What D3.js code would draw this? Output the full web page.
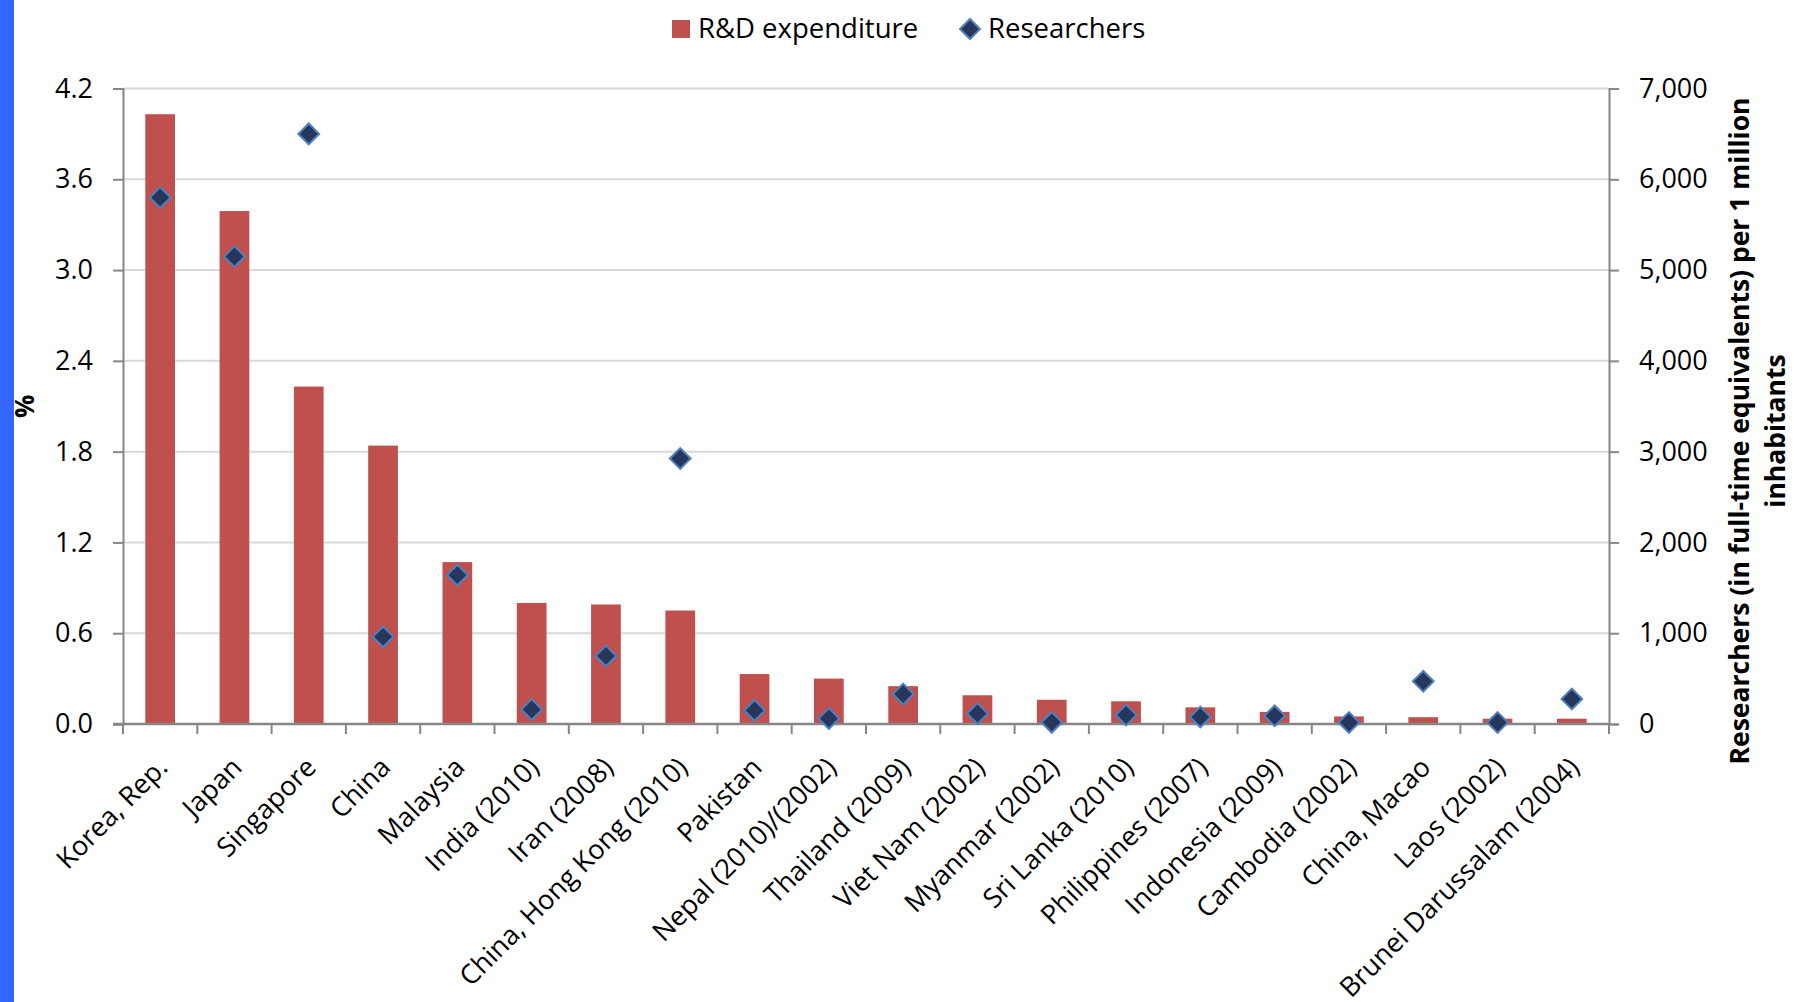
<!DOCTYPE html>
<html>
<head>
<meta charset="utf-8">
<script src="https://cdn.jsdelivr.net/npm/d3@7"></script>
<style>
  html, body { margin: 0; padding: 0; background: #ffffff; }
  svg { display: block; font-family: "Open Sans", "Noto Sans", sans-serif; }
</style>
</head>
<body>
<svg id="chart" width="1794" height="1002"></svg>
<script>
// Countries (year of data where it differs)
const categories = [
  "Korea, Rep.", "Japan", "Singapore", "China", "Malaysia", "India (2010)",
  "Iran (2008)", "China, Hong Kong (2010)", "Pakistan", "Nepal (2010)/(2002)",
  "Thailand (2009)", "Viet Nam (2002)", "Myanmar (2002)", "Sri Lanka (2010)",
  "Philippines (2007)", "Indonesia (2009)", "Cambodia (2002)", "China, Macao",
  "Laos (2002)", "Brunei Darussalam (2004)"
];
// Gross expenditure on R&D, % of GDP (left axis)
const rdExpenditure = [
  4.03, 3.39, 2.23, 1.84, 1.07, 0.80, 0.79, 0.75, 0.33, 0.30,
  0.25, 0.19, 0.16, 0.15, 0.11, 0.08, 0.05, 0.045, 0.035, 0.035
];
// Researchers in FTE per million inhabitants (right axis)
const researchers = [
  5800, 5150, 6500, 960, 1640, 160, 750, 2925, 150, 60,
  330, 115, 18, 100, 78, 90, 17, 470, 16, 275
];
const leftTicks = [0, 0.6, 1.2, 1.8, 2.4, 3.0, 3.6, 4.2];
const rightTicks = [0, 1000, 2000, 3000, 4000, 5000, 6000, 7000];
const seriesNames = ["R&D expenditure", "Researchers"];
const leftTitle = "%";
const rightTitle = ["Researchers (in full-time equivalents) per 1 million", "inhabitants"];

const svg = d3.select("#chart");
const W = 1794, H = 1002;
const plot = { left: 123, right: 1609, top: 88.5, bottom: 724 };

const barColor = "#C0504D";
const markFill = "#26365C";
const markStroke = "#4F81BD";
const axisColor = "#868686";
const gridColor = "#D9D9D9";

svg.append("rect").attr("width", W).attr("height", H).attr("fill", "#ffffff");
// accent strip along the left edge
svg.append("rect").attr("x", 0).attr("y", 0).attr("width", 14).attr("height", H).attr("fill", "#3366FF");

const x = d3.scaleBand().domain(categories).range([plot.left, plot.right])
  .paddingInner(0.6).paddingOuter(0.3);
const yL = d3.scaleLinear().domain([0, 4.2]).range([plot.bottom, plot.top]);
const yR = d3.scaleLinear().domain([0, 7000]).range([plot.bottom, plot.top]);

// gridlines
svg.append("g").selectAll("line").data(leftTicks.slice(1)).join("line")
  .attr("x1", plot.left).attr("x2", plot.right)
  .attr("y1", d => yL(d)).attr("y2", d => yL(d))
  .attr("stroke", gridColor).attr("stroke-width", 2);

// bars
svg.append("g").selectAll("rect").data(rdExpenditure).join("rect")
  .attr("x", (d, i) => x(categories[i]))
  .attr("width", x.bandwidth())
  .attr("y", d => yL(d))
  .attr("height", d => plot.bottom - yL(d))
  .attr("fill", barColor);

// left axis
const leftAxis = d3.axisLeft(yL).tickValues(leftTicks).tickFormat(d3.format(".1f"))
  .tickSize(10).tickPadding(20);
const gL = svg.append("g").attr("transform", `translate(${plot.left},0)`).call(leftAxis);
gL.select(".domain").attr("stroke", axisColor).attr("stroke-width", 2);
gL.selectAll(".tick line").attr("stroke", axisColor).attr("stroke-width", 2);
gL.selectAll(".tick text").attr("font-size", 27).attr("fill", "#000")
  .attr("font-family", "Open Sans");

// right axis
const rightAxis = d3.axisRight(yR).tickValues(rightTicks).tickFormat(d3.format(","))
  .tickSize(10).tickPadding(20);
const gR = svg.append("g").attr("transform", `translate(${plot.right},0)`).call(rightAxis);
gR.select(".domain").attr("stroke", axisColor).attr("stroke-width", 2);
gR.selectAll(".tick line").attr("stroke", axisColor).attr("stroke-width", 2);
gR.selectAll(".tick text").attr("font-size", 27).attr("fill", "#000")
  .attr("font-family", "Open Sans");

// category axis: ticks at band boundaries
const boundaries = categories.map(c => x(c) - x.step() * x.paddingInner() / 2)
  .concat([plot.right]);
svg.append("g").selectAll("line").data(boundaries).join("line")
  .attr("x1", d => d).attr("x2", d => d)
  .attr("y1", plot.bottom).attr("y2", plot.bottom + 10)
  .attr("stroke", axisColor).attr("stroke-width", 2);
svg.append("line")
  .attr("x1", plot.left - 10).attr("x2", plot.right)
  .attr("y1", plot.bottom).attr("y2", plot.bottom)
  .attr("stroke", axisColor).attr("stroke-width", 2.5);

// category labels, slanted
svg.append("g").selectAll("text").data(categories).join("text")
  .attr("transform", d => `translate(${x(d) + x.bandwidth() / 2 + 9},${plot.bottom + 45}) rotate(-45)`)
  .attr("text-anchor", "end")
  .attr("font-size", 27)
  .attr("fill", "#000")
  .text(d => d);

// researcher markers
const diamond = d3.symbol(d3.symbolSquare, 215);
svg.append("g").selectAll("path").data(researchers).join("path")
  .attr("d", diamond)
  .attr("transform", (d, i) => `translate(${x(categories[i]) + x.bandwidth() / 2},${yR(d)}) rotate(45)`)
  .attr("fill", markFill)
  .attr("stroke", markStroke)
  .attr("stroke-width", 2);

// axis titles
svg.append("text")
  .attr("transform", `translate(34,${(plot.top + plot.bottom) / 2}) rotate(-90)`)
  .attr("text-anchor", "middle")
  .attr("font-size", 26).attr("font-weight", "bold").attr("fill", "#000")
  .text(leftTitle);
const rt = svg.append("text")
  .attr("transform", `translate(1749,431) rotate(-90)`)
  .attr("text-anchor", "middle")
  .attr("font-size", 26.5).attr("font-weight", "bold").attr("fill", "#000");
rt.selectAll("tspan").data(rightTitle).join("tspan")
  .attr("x", 0).attr("dy", (d, i) => i === 0 ? 0 : 36)
  .text(d => d);

// legend
const lg = svg.append("g");
lg.append("rect").attr("x", 672).attr("y", 20).attr("width", 18).attr("height", 18).attr("fill", barColor);
lg.append("text").attr("x", 698).attr("y", 38).attr("font-size", 27.5).attr("fill", "#000").text(seriesNames[0]);
lg.append("path").attr("d", d3.symbol(d3.symbolSquare, 200))
  .attr("transform", "translate(970,29) rotate(45)")
  .attr("fill", markFill).attr("stroke", markStroke).attr("stroke-width", 2);
lg.append("text").attr("x", 988).attr("y", 38).attr("font-size", 27.5).attr("fill", "#000").text(seriesNames[1]);
</script>
</body>
</html>
